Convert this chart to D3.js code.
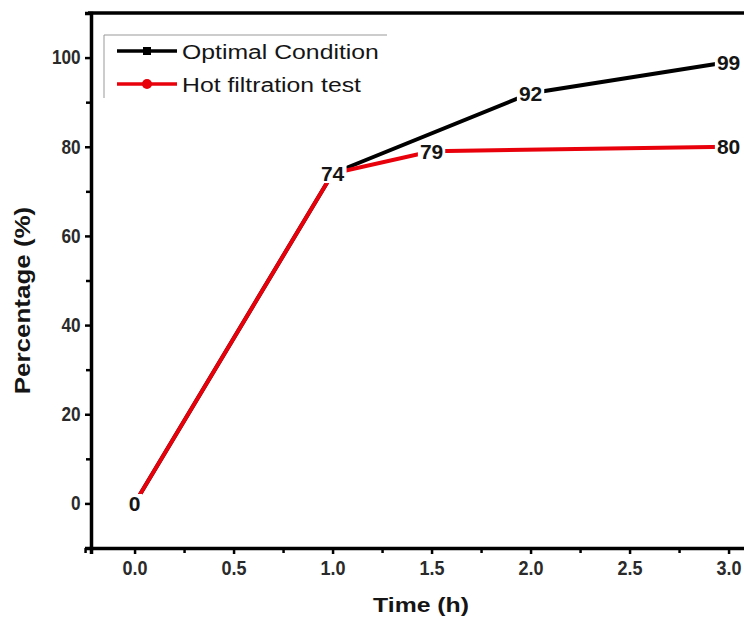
<!DOCTYPE html>
<html>
<head>
<meta charset="utf-8">
<script src="https://cdn.jsdelivr.net/npm/d3@7"></script>
<style>
  html, body { margin: 0; padding: 0; background: #fff; }
  svg { display: block; font-family: Arial, 'Liberation Sans', sans-serif; }
</style>
</head>
<body>
<div id="chart"></div>
<script>
// data
const optimalTime = [0, 1, 2, 3];
const optimalPct = [0, 74, 92, 99];
const hotTime = [0, 1, 1.5, 3];
const hotPct = [0, 74, 79, 80];
const seriesNames = ['Optimal Condition', 'Hot filtration test'];
const seriesColors = ['#000000', '#e8000b'];
const xMajor = [0, 0.5, 1, 1.5, 2, 2.5, 3];
const xMinor = [-0.25, 0.25, 0.75, 1.25, 1.75, 2.25, 2.75, 3.25];
const yMajor = [0, 20, 40, 60, 80, 100];
const yMinor = [-10, 10, 30, 50, 70, 90, 110];

const width = 744;
const height = 618;
const margin = { top: 13, left: 91, bottom: 70 };
const stretch = 1.18; // the source titles are a bit wide

const x = d3.scaleLinear().domain([-0.22, 3.2]).range([margin.left, margin.left + 3.42 * 198]);
const y = d3.scaleLinear().domain([-10, 110]).range([height - margin.bottom, margin.top]);

const svg = d3.select('#chart')
  .append('svg')
  .attr('width', width)
  .attr('height', height);

// minor ticks first, then the major axis over them
svg.append('g')
  .attr('transform', `translate(0,${y(-10)})`)
  .call(d3.axisBottom(x).tickValues(xMinor).tickSize(5).tickFormat(''))
  .call((g) => g.select('.domain').remove())
  .call((g) => g.selectAll('line').attr('stroke-width', 2.5));

svg.append('g')
  .attr('transform', `translate(${x(-0.22)},0)`)
  .call(d3.axisLeft(y).tickValues(yMinor).tickSize(5).tickFormat(''))
  .call((g) => g.select('.domain').remove())
  .call((g) => g.selectAll('line').attr('stroke-width', 2.5));

const xAxis = svg.append('g')
  .attr('transform', `translate(0,${y(-10)})`)
  .call(d3.axisBottom(x).tickValues(xMajor).tickSize(6).tickPadding(7).tickFormat(d3.format('.1f')));

const yAxis = svg.append('g')
  .attr('transform', `translate(${x(-0.22)},0)`)
  .call(d3.axisLeft(y).tickValues(yMajor).tickSize(6).tickPadding(6));

[xAxis, yAxis].forEach((g) => {
  g.attr('font-family', null);
  g.select('.domain').attr('stroke-width', 3.5).attr('stroke', '#000');
  g.selectAll('.tick line').attr('stroke-width', 2.5);
  g.selectAll('.tick text')
    .attr('fill', '#2a2a2a')
    .style('font-size', '20px')
    .style('font-weight', 'bold');
});
// tick digits are tall and narrow in the source
xAxis.selectAll('.tick text').attr('transform', 'scale(0.9,1)');
yAxis.selectAll('.tick text').attr('transform', 'scale(0.86,1)');

// top frame line
svg.append('line')
  .attr('x1', x(-0.22) - 3).attr('x2', width + 10)
  .attr('y1', y(110)).attr('y2', y(110))
  .attr('stroke', '#000')
  .attr('stroke-width', 3.5);

// axis titles
svg.append('text')
  .attr('transform', `translate(421,612) scale(${stretch},1)`)
  .attr('text-anchor', 'middle')
  .style('font-size', '21px')
  .style('font-weight', 'bold')
  .attr('fill', '#151515')
  .text('Time (h)');

svg.append('text')
  .attr('transform', `translate(30,${(y(-10) + y(110)) / 2 + 20}) rotate(-90) scale(${stretch},1)`)
  .attr('text-anchor', 'middle')
  .style('font-size', '22px')
  .style('font-weight', 'bold')
  .attr('fill', '#151515')
  .text('Percentage (%)');

// series
const series = [
  { name: seriesNames[0], color: seriesColors[0], pts: optimalTime.map((t, i) => [t, optimalPct[i]]) },
  { name: seriesNames[1], color: seriesColors[1], pts: hotTime.map((t, i) => [t, hotPct[i]]) },
];

const line = d3.line().x((d) => x(d[0])).y((d) => y(d[1]));

series.forEach((s) => {
  svg.append('path')
    .datum(s.pts)
    .attr('fill', 'none')
    .attr('stroke', s.color)
    .attr('stroke-width', 4)
    .attr('d', line);
});

// value labels with white knockout over points
const labelPts = [];
series.forEach((s) => s.pts.forEach((p) => {
  if (!labelPts.some((q) => q[0] === p[0] && q[1] === p[1])) labelPts.push(p);
}));

const labels = svg.append('g')
  .selectAll('g')
  .data(labelPts)
  .join('g')
  .attr('transform', (d) => `translate(${x(d[0])},${y(d[1])})`);

labels.append('text')
  .attr('text-anchor', 'middle')
  .attr('dy', '0.36em')
  .style('font-size', '21px')
  .style('font-weight', 'bold')
  .attr('fill', '#151515')
  .text((d) => d[1]);

labels.each(function () {
  const g = d3.select(this);
  const b = g.select('text').node().getBBox();
  g.insert('rect', 'text')
    .attr('x', b.x - 2).attr('y', b.y + 2)
    .attr('width', b.width + 4).attr('height', b.height - 4)
    .attr('fill', '#fff');
});

// legend
const legend = svg.append('g');
legend.append('path')
  .attr('d', `M104,98V35H387`)
  .attr('fill', 'none')
  .attr('stroke', '#999')
  .attr('stroke-width', 1);

const items = legend.selectAll('g')
  .data(series)
  .join('g')
  .attr('transform', (d, i) => `translate(0,${51 + i * 33})`);

items.append('line')
  .attr('x1', 117).attr('x2', 177)
  .attr('stroke', (d) => d.color)
  .attr('stroke-width', 3.5);

items.filter((d, i) => i === 0).append('rect')
  .attr('x', 143).attr('y', -4).attr('width', 8).attr('height', 8)
  .attr('fill', '#000');

items.filter((d, i) => i === 1).append('circle')
  .attr('cx', 147).attr('r', 5)
  .attr('fill', seriesColors[1]);

items.append('text')
  .attr('transform', `translate(182,0) scale(${stretch},1)`)
  .attr('dy', '0.36em')
  .style('font-size', '21px')
  .attr('fill', '#151515')
  .text((d) => d.name);
</script>
</body>
</html>
